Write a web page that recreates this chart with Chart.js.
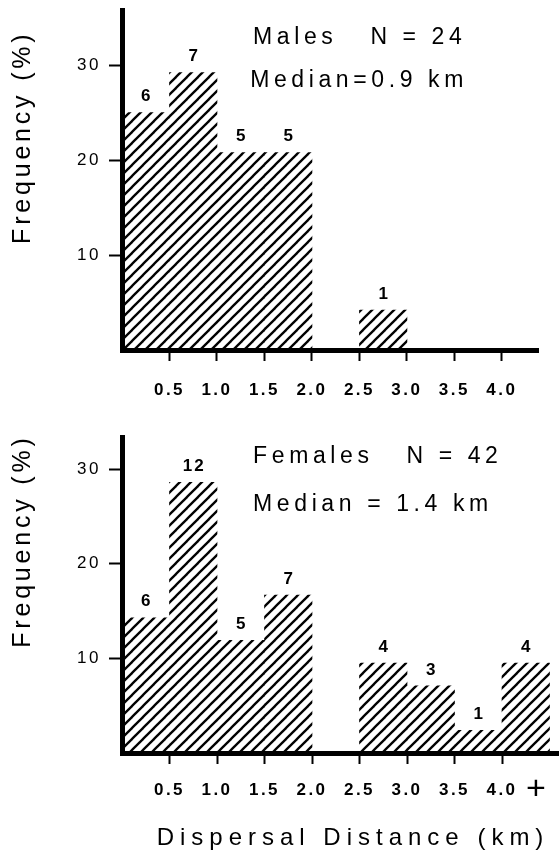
<!DOCTYPE html>
<html>
<head>
<meta charset="utf-8">
<script src="https://cdn.jsdelivr.net/npm/chart.js@4/dist/chart.umd.min.js"></script>
<style>
  html, body { margin: 0; padding: 0; background: #fff; }
  canvas { display: block; }
</style>
</head>
<body>
<canvas id="males" width="559" height="420"></canvas>
<canvas id="females" width="559" height="432"></canvas>
<script>
// ---------------- data ----------------
const MALE_BINS = [0.25, 0.75, 1.25, 1.75, 2.25, 2.75, 3.25, 3.75];      // bin centres (km)
const MALE_PCT = [25.0, 29.2, 20.8, 20.8, 0, 4.2, 0, 0];                  // frequency (%)
const MALE_COUNTS = [6, 7, 5, 5, 0, 1, 0, 0];                            // n per bin
const MALE_NOTES = ['Males   N = 24', 'Median=0.9 km'];

const FEMALE_BINS = [0.25, 0.75, 1.25, 1.75, 2.25, 2.75, 3.25, 3.75, 4.25];
const FEMALE_PCT = [14.3, 28.6, 11.9, 16.7, 0, 9.5, 7.1, 2.4, 9.5];
const FEMALE_COUNTS = [6, 12, 5, 7, 0, 4, 3, 1, 4];
const FEMALE_NOTES = ['Females   N = 42', 'Median = 1.4 km'];

const X_TICKS = [0.5, 1.0, 1.5, 2.0, 2.5, 3.0, 3.5, 4.0];
const X_TICK_LABELS = ['0.5', '1.0', '1.5', '2.0', '2.5', '3.0', '3.5', '4.0'];
const FEMALE_X_TICKS = [0.5, 1.0, 1.5, 2.0, 2.5, 3.0, 3.5, 4.0, 4.37];
const FEMALE_X_TICK_LABELS = ['0.5', '1.0', '1.5', '2.0', '2.5', '3.0', '3.5', '4.0', '+'];
const Y_TICKS = [10, 20, 30];

const Y_TITLE = 'Frequency (%)';
const X_TITLE = 'Dispersal Distance (km)';

// ---------------- styling helpers ----------------
const FONT = '"Liberation Sans", Arial, Helvetica, sans-serif';
Chart.defaults.font.family = FONT;
Chart.defaults.color = '#000';

function hatchPattern() {
  const s = 11;
  const c = document.createElement('canvas');
  c.width = s; c.height = s;
  const g = c.getContext('2d');
  g.strokeStyle = '#000';
  g.lineWidth = 2.3;
  for (const k of [-1, 0, 1]) {
    g.beginPath();
    g.moveTo(k * s - 1, s + 1);
    g.lineTo(k * s + s + 1, -1);
    g.stroke();
  }
  return g.createPattern(c, 'repeat');
}

function spacedText(ctx, text, x, y, font, ls, align) {
  ctx.save();
  ctx.font = font;
  ctx.letterSpacing = ls + 'px';
  ctx.fillStyle = '#000';
  ctx.textAlign = align;
  ctx.textBaseline = 'middle';
  let dx = 0;
  if (align === 'center') dx = ls / 2;
  else if (align === 'right') dx = ls;
  ctx.fillText(text, x + dx, y);
  ctx.restore();
}

const tickSpacing = {
  id: 'tickSpacing',
  beforeUpdate(ch) { ch.ctx.letterSpacing = '2.5px'; },
  beforeDraw(ch) { ch.ctx.letterSpacing = '2.5px'; }
};

const textPlugin = {
  id: 'textPlugin',
  afterDatasetsDraw(ch, args, o) {
    const ctx = ch.ctx;
    const meta = ch.getDatasetMeta(0);
    meta.data.forEach((bar, i) => {
      const n = o.counts[i];
      if (!n) return;
      spacedText(ctx, String(n), bar.x, bar.y - 16, 'bold 17px ' + FONT, 2, 'center');
    });
  },
  afterDraw(ch, args, o) {
    const ctx = ch.ctx;
    const xs = ch.scales.x, ys = ch.scales.y;
    o.notes.forEach((t, i) => {
      const p = o.notePos[i];
      spacedText(ctx, t, xs.getPixelForValue(p[0]), ys.getPixelForValue(p[1]), '23px ' + FONT, 4.6, 'left');
    });
    // y axis title
    ctx.save();
    ctx.translate(23, ys.getPixelForValue(22.2));
    ctx.rotate(-Math.PI / 2);
    spacedText(ctx, Y_TITLE, 0, 0, '25px ' + FONT, 3.8, 'center');
    ctx.restore();
    if (o.xTitle) {
      spacedText(ctx, o.xTitle, xs.getPixelForValue(2.4), ch.chartArea.bottom + 85, '24px ' + FONT, 6, 'center');
    }
  }
};

function makeChart(id, cfg) {
  const hatch = hatchPattern();
  return new Chart(document.getElementById(id), {
    type: 'bar',
    data: {
      datasets: [{
        data: cfg.bins.map((b, i) => ({ x: b, y: cfg.pct[i] })),
        backgroundColor: hatch,
        borderWidth: 0,
        barThickness: 'flex',
        categoryPercentage: 1,
        barPercentage: 1
      }]
    },
    options: {
      responsive: false,
      animation: false,
      devicePixelRatio: 1,
      layout: { padding: { top: cfg.padTop, right: cfg.padRight, left: 0, bottom: 0 } },
      plugins: {
        legend: { display: false },
        tooltip: { enabled: false },
        textPlugin: { counts: cfg.counts, notes: cfg.notes, notePos: cfg.notePos, xTitle: cfg.xTitle }
      },
      scales: {
        x: {
          type: 'linear',
          min: 0,
          max: cfg.xMax,
          offset: false,
          afterFit: s => { s.height = cfg.xAxisHeight; s.paddingLeft = 0; s.paddingRight = 0; },
          afterBuildTicks: s => { s.ticks = cfg.xTicks.map(v => ({ value: v })); },
          ticks: {
            autoSkip: false,
            maxRotation: 0,
            minRotation: 0,
            padding: cfg.xLabelPad,
            color: '#000',
            font: c => (c.tick && c.tick.value > 4.2)
              ? { family: FONT, size: 34, weight: 'normal', lineHeight: 0.56 }
              : { family: FONT, size: 17, weight: 'bold' },
            callback: (v, i) => cfg.xTickLabels[i]
          },
          grid: {
            offset: false,
            drawOnChartArea: false,
            tickLength: 11,
            tickWidth: 2,
            tickColor: c => (c.tick && c.tick.value > 4.2) ? 'rgba(0,0,0,0)' : '#000'
          },
          border: { display: true, width: 5, color: '#000' }
        },
        y: {
          min: 0,
          max: cfg.yMax,
          afterFit: s => { s.width = 122; s.paddingTop = 0; s.paddingBottom = 0; },
          afterBuildTicks: s => { s.ticks = Y_TICKS.map(v => ({ value: v })); },
          ticks: {
            padding: 8,
            color: '#000',
            font: { family: FONT, size: 17 },
            callback: v => String(v)
          },
          grid: { offset: false, drawOnChartArea: false, tickLength: 13, tickWidth: 2, tickColor: '#000' },
          border: { display: true, width: 5, color: '#000' }
        }
      }
    },
    plugins: [tickSpacing, textPlugin]
  });
}

makeChart('males', {
  bins: MALE_BINS, pct: MALE_PCT, counts: MALE_COUNTS,
  notes: MALE_NOTES, notePos: [[1.38, 32.9], [1.35, 28.4]],
  xTicks: X_TICKS, xTickLabels: X_TICK_LABELS,
  xMax: 4.38, yMax: 35.8, padTop: 10, padRight: 21,
  xAxisHeight: 70, xLabelPad: 19, xTitle: null
});

makeChart('females', {
  bins: FEMALE_BINS, pct: FEMALE_PCT, counts: FEMALE_COUNTS,
  notes: FEMALE_NOTES, notePos: [[1.38, 31.3], [1.38, 26.2]],
  xTicks: FEMALE_X_TICKS, xTickLabels: FEMALE_X_TICK_LABELS,
  xMax: 4.6, yMax: 33.4, padTop: 17, padRight: 0,
  xAxisHeight: 99, xLabelPad: 16, xTitle: X_TITLE
});
</script>
</body>
</html>
